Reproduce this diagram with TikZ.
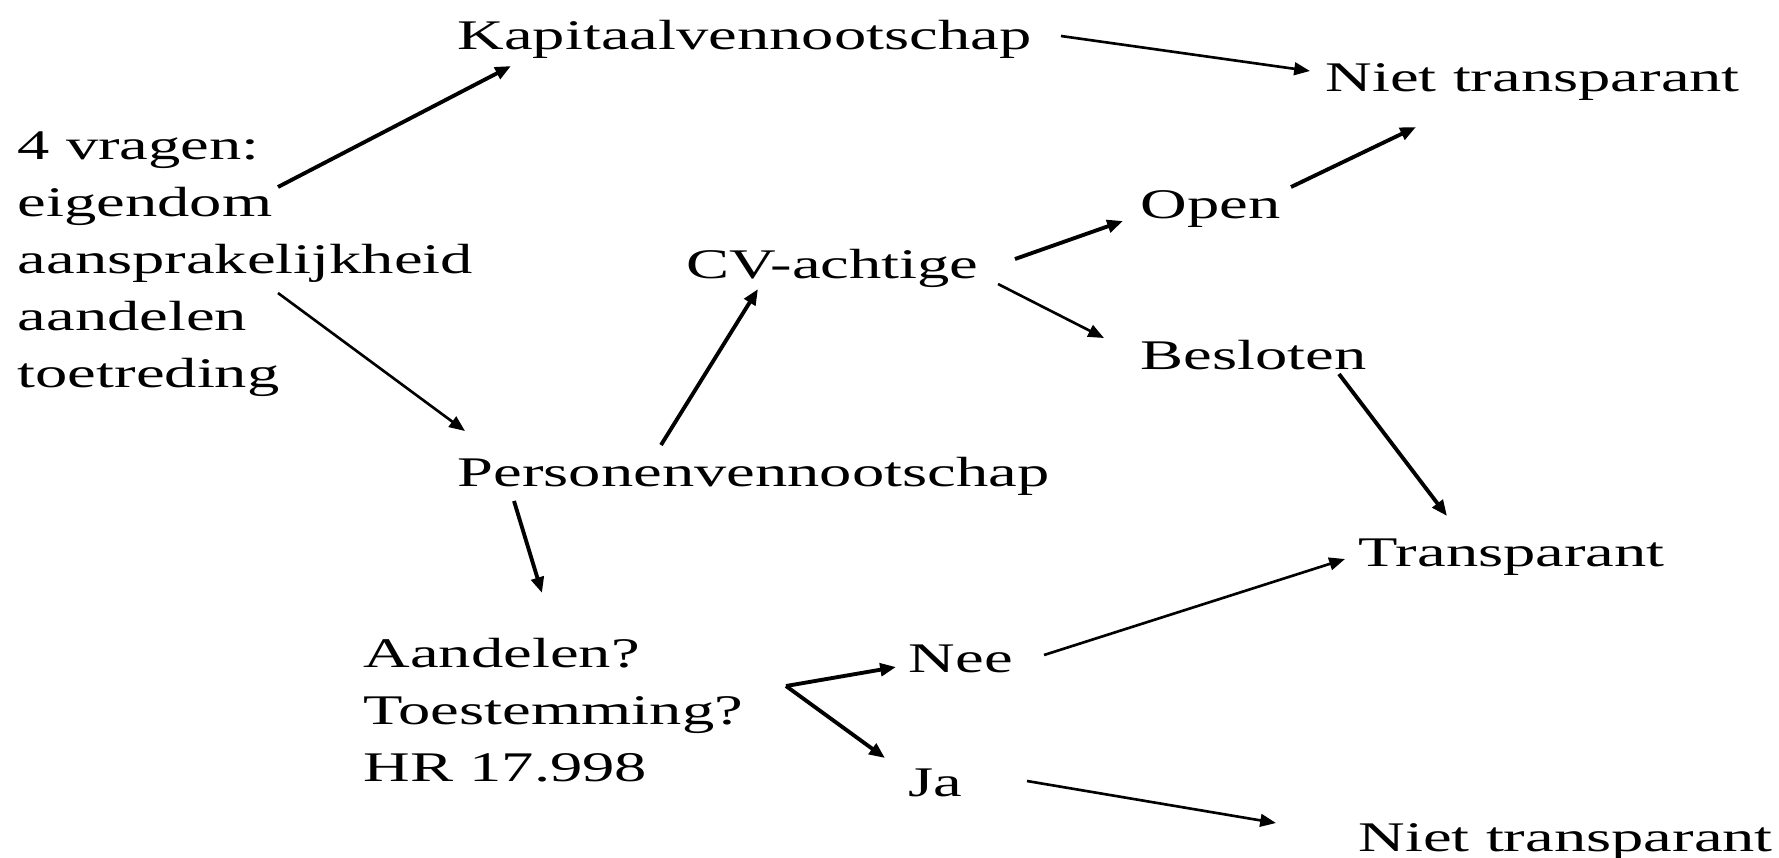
\documentclass[tikz,border=0pt]{standalone}
\usepackage{fontspec}
\setmainfont{Liberation Serif}[FakeStretch=1.53]
\usetikzlibrary{arrows.meta}
\begin{document}
\begin{tikzpicture}[x=0.01cm,y=-0.01cm,
    txt/.style={anchor=base west,inner sep=0pt,font=\fontsize{12}{16.2}\selectfont,align=left},
    arr/.style={-{Triangle[length=4.5pt,width=3.6pt]},line width=1.1pt},
    thin arr/.style={arr,line width=0.75pt}]
    \useasboundingbox (0,0) rectangle (1779,857);
    \node[txt] (kap) at (457,49) {Kapitaalvennootschap};
    \node[txt] (niet1) at (1325,91) {Niet transparant};
    \node[txt] (vragen) at (17,387) {4 vragen:\\eigendom\\aansprakelijkheid\\aandelen\\toetreding};
    \node[txt] (cv) at (686,278) {CV-achtige};
    \node[txt] (open) at (1140,218) {Open};
    \node[txt] (besl) at (1140,369) {Besloten};
    \node[txt] (pers) at (457,486) {Personenvennootschap};
    \node[txt] (trans) at (1358,566) {Transparant};
    \node[txt] (vraag) at (363,781) {Aandelen?\\Toestemming?\\HR 17.998};
    \node[txt] (nee) at (908,672) {Nee};
    \node[txt] (ja) at (908,796) {Ja};
    \node[txt] (niet2) at (1358,851) {Niet transparant};
    \coordinate (fork) at ([shift={(423,-95)}]vraag.base west);
    % eerste splitsing
    \draw[arr] ([shift={(261,-200)}]vragen.base west) -- ([shift={(54,17)}]kap.base west);
    \draw[thin arr] ([shift={(604,-13)}]kap.base west) -- ([shift={(-15,-20)}]niet1.base west);
    \draw[thin arr] ([shift={(261,-94)}]vragen.base west) -- ([shift={(8,-55)}]pers.base west);
    % personenvennootschap
    \draw[arr] ([shift={(204,-41)}]pers.base west) -- ([shift={(72,11)}]cv.base west);
    \draw[arr] ([shift={(329,-19)}]cv.base west) -- ([shift={(-17,3)}]open.base west);
    \draw[thin arr] ([shift={(312,6)}]cv.base west) -- ([shift={(-36,-31)}]besl.base west);
    \draw[arr] ([shift={(151,-31)}]open.base west) -- ([shift={(91,36)}]niet1.base west);
    \draw[arr] ([shift={(199,5)}]besl.base west) -- ([shift={(89,-50)}]trans.base west);
    \draw[arr] ([shift={(57,15)}]pers.base west) -- ([shift={(179,-188)}]vraag.base west);
    % aandelen / toestemming
    \draw[arr] (fork) -- ([shift={(-12,-5)}]nee.base west);
    \draw[arr] (fork) -- ([shift={(-23,-38)}]ja.base west);
    \draw[thin arr] ([shift={(136,-17)}]nee.base west) -- ([shift={(-13,-7)}]trans.base west);
    \draw[thin arr] ([shift={(119,-15)}]ja.base west) -- ([shift={(-82,-28)}]niet2.base west);
\end{tikzpicture}
\end{document}
